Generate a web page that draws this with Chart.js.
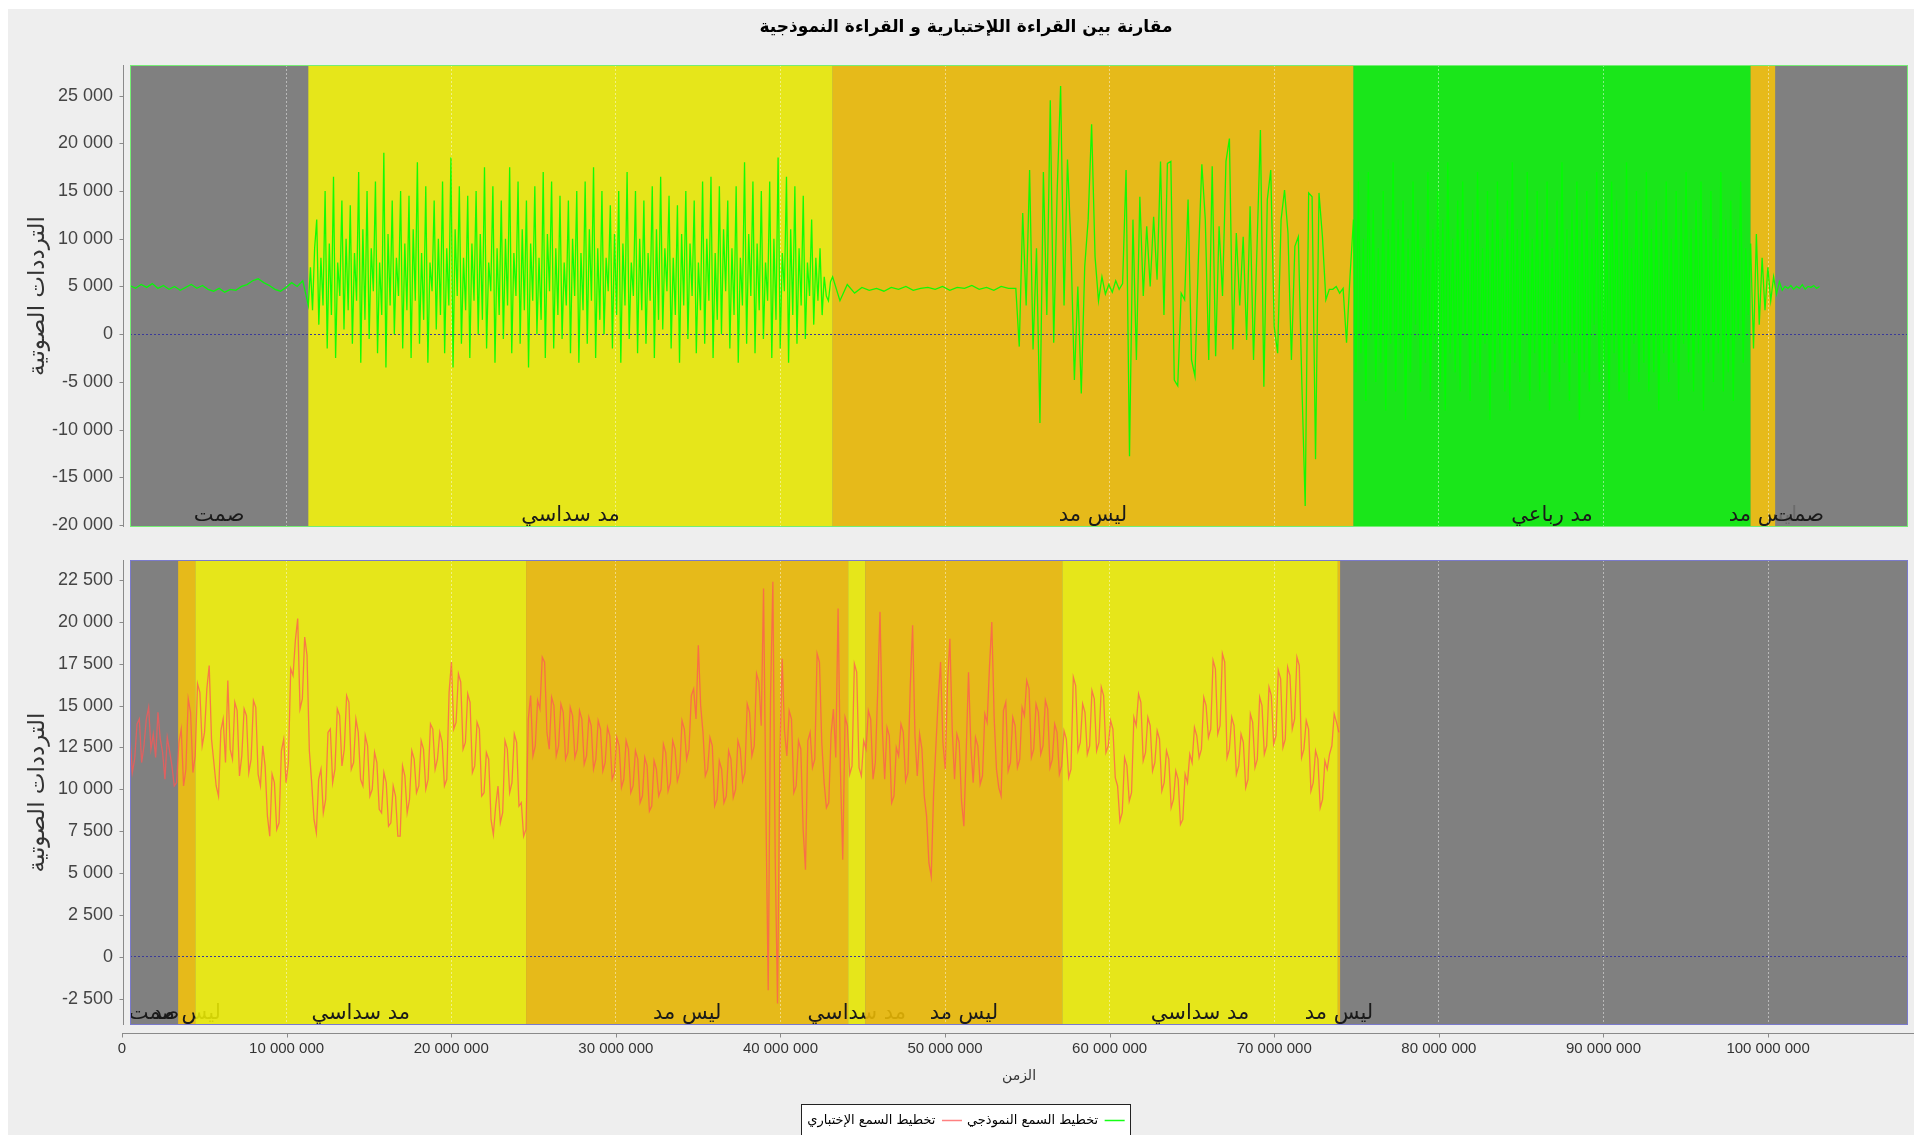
<!DOCTYPE html>
<html lang="ar">
<head>
<meta charset="UTF-8">
<title>مقارنة بين القراءة اللإختبارية و القراءة النموذجية</title>
<script src="https://cdn.jsdelivr.net/npm/chart.js@4"></script>
<style>
  html, body { margin: 0; padding: 0; background: #fff; overflow: hidden; }
  #panel { position: absolute; left: 8px; top: 9px; width: 1906px; height: 1126px; background: #eeeeee; overflow: hidden; }
  #panel canvas { position: absolute; left: 0; }
  #topChart { top: 0; }
  #bottomChart { top: 539px; }
</style>
</head>
<body>
<div id="panel">
  <canvas id="topChart" width="1906" height="530"></canvas>
  <canvas id="bottomChart" width="1906" height="589"></canvas>
</div>

<script>
// ---- axis values ----
const timeMin = 486000, timeMax = 108500000;
const timeTicks = [0, 10000000, 20000000, 30000000, 40000000, 50000000, 60000000, 70000000, 80000000, 90000000, 100000000];
const topYMin = -20200, topYMax = 28200;
const topYTicks = [-20000, -15000, -10000, -5000, 0, 5000, 10000, 15000, 20000, 25000];
const botYMin = -4080, botYMax = 23700;
const botYTicks = [-2500, 0, 2500, 5000, 7500, 10000, 12500, 15000, 17500, 20000, 22500];

// ---- labelled intervals (marker bands) ----
const kindLabel = { silence: 'صمت', vowel6: 'مد سداسي', none: 'ليس مد', vowel4: 'مد رباعي' };
const topRegionStart = [486000, 11320000, 43170000, 74810000, 98940000, 100440000];
const topRegionEnd   = [11320000, 43170000, 74810000, 98940000, 100440000, 103300000];
const topRegionKind  = ['silence', 'vowel6', 'none', 'vowel4', 'none', 'silence'];
const botRegionStart = [486000, 3410000, 4460000, 24550000, 44120000, 45160000, 57130000, 73860000];
const botRegionEnd   = [3410000, 4460000, 24550000, 44120000, 45160000, 57130000, 73860000, 74000000];
const botRegionKind  = ['silence', 'none', 'vowel6', 'none', 'vowel6', 'none', 'vowel6', 'none'];

// ---- model reading (top), stored per interval ----
const topSegStart = [486000, 11320000, 43170000, 54300000, 74810000, 98940000];
const topSegEnd   = [11320000, 43170000, 54300000, 74810000, 98940000, 103300000];

const topQuietA = [5100, 4800, 5200, 4900, 5300, 4800, 5100, 4700, 5000, 4600, 4900, 5200, 4800, 5100, 4700, 4500,
  4800, 4400, 4700, 4600, 5000, 5200, 5600, 5800, 5400, 5100, 4700, 4500, 4900, 5400, 5000, 5600];

const topVowel6 = [3000, 7000, 2500, 9000,
  12000, 1000, 8000, 3000, 15000, -1500, 9500, 2000, 16500, -2500, 7500, 4000, 14000, 500, 10000, 2500,
  13500, -1000, 8500, 3500, 17000, -3000, 11000, 1500, 15000, -500, 9000, 4500, 16000, -2000, 7500, 2000,
  19000, -3500, 10500, 3000, 14000, 0, 8000, 4000, 15000, -1500, 9500, 2500, 14500, -2500, 11000, 3500,
  18000, -1000, 8500, 1500, 15500, -3000, 7500, 4500, 14000, 500, 10000, 2000, 16000, -2000, 9000, 3000,
  18500, -3500, 11000, 4000, 15500, -1000, 8000, 2500, 14500, -2500, 9500, 3500, 15000, 0, 10500, 1500,
  17500, -1500, 7500, 4500, 15500, -3000, 9000, 2000, 14000, -500, 10000, 3000, 17500, -2000, 8500, 4000,
  16000, -1000, 11000, 2500, 14000, -3500, 9500, 3500, 15500, 0, 8000, 1500, 17000, -2500, 10500, 4500,
  16000, -1500, 9000, 2000, 14500, -500, 7500, 3000, 14000, -2000, 10000, 4000, 15000, -3000, 8500, 2500,
  16000, -1000, 11000, 3500, 17500, -2500, 9000, 1500, 15000, 0, 8000, 4500, 13500, -1500, 10500, 2000,
  15000, -3000, 9500, 3000, 17000, -500, 7500, 4000, 15000, -2000, 10000, 2500, 14000, -1000, 8500, 3500,
  15500, -2500, 11000, 1500, 16500, 500, 9000, 4500, 14500, -1500, 8000, 2000, 13500, -3000, 10500, 3000,
  15000, -500, 9500, 4000, 14000, -2000, 7500, 2500, 16000, -1000, 10000, 3500, 16500, -2500, 8500, 1500,
  15500, 0, 11000, 4500, 14000, -1500, 9000, 2000, 15500, -3000, 8000, 3000, 18000, -1000, 10500, 4000,
  16000, -2000, 9500, 2500, 15000, -500, 7500, 3500, 16000, -2500, 10000, 1500, 18500, -1500, 8500, 4500,
  16500, -3000, 11000, 2000, 15500, -1000, 9000, 3000, 14500, -500, 7500, 4000, 12000, 1000, 8000, 3500,
  9000, 2000, 6000, 4000, 3500, 5500];

const topQuietB = [6000, 3500, 5200, 4300, 4900, 4600, 4800, 4500, 4900, 4700, 5000, 4600, 4800, 4900, 4700, 5000,
  4600, 4900, 4800, 5100, 4700, 4900, 4600, 5000, 4800];

const topBursts = [4800, -1300, 12700, 3000, 17200, -1600, 9000, -9300, 17000, 2000, 24500, -900, 15000, 26000,
  3000, 18300, 9200, -4800, 5000, -6200, 7100, 12000, 22000, 8100, 3500, 6000, 4200, 5200, 4400, 5600, 4700, 5300,
  17200, -12800, 12000, -2700, 14400, 4000, 11300, 5000, 12300, 5700, 18100, 2000, 17900, 18100, -4800, -5400,
  4300, 3600, 14100, -2700, -4400, 8000, 17800, 12000, -2700, 17600, -2300, 11300, 4000, 18100, 20500, -1600,
  10600, 3000, 10200, -600, 13400, -2700, 9000, 21400, -5500, 14100, 17200, 800, -2000, 12000, 15100, 10600,
  -2700, 9200, 10200, -4800, -18000, 14800, 14400, -13100, 14800, 10200, 3600, 4700, 4700, 5000, 4300, 4800,
  -900, 6000];

const topVowel4 = [
  12000, -4000, 16000, -2000, 10000, -7000, 17000, 0, 13000, -5000, 9000, -3000, 15000, -8000, 11000, -1000,
  18000, -6000, 12000, -2000, 14000, -9000, 10000, -4000, 16000, 1000, 13000, -6000, 9000, -3000, 17000, -7000,
  11000, -1000, 15000, -5000, 12000, -8000, 18000, -2000, 10000, -4000, 14000, -6000, 16000, 0, 11000, -7000,
  13000, -3000, 17000, -5000, 9000, -1000, 15000, -9000, 12000, -4000, 16000, -2000, 10000, -6000, 14000, -8000,
  18000, -3000, 11000, -5000, 13000, 0, 17000, -7000, 10000, -2000, 15000, -6000, 12000, -4000, 16000, -8000,
  9000, -1000, 14000, -5000, 18000, -3000, 11000, -7000, 13000, -2000, 16000, -9000, 12000, -4000, 15000, -6000,
  10000, 1000, 17000, -5000, 13000, -3000, 11000, -8000, 16000, -2000, 14000, -6000, 12000, -4000, 18000, -7000,
  9000, -1000, 15000, -5000, 13000, -3000, 17000, -6000, 11000, -4000, 14000, -8000, 12000, -2000, 16000, -5000,
  10000, -3000, 15000, -7000, 13000, -1000, 17000, -4000, 11000, -6000, 14000, -2000, 16000, -8000, 12000, -3000,
  15000, -5000, 10000, -2000, 17000, -6000, 12000, -4000, 14000, -7000, 11000, 0, 16000, -3000, 9000, 2000];

const topTail = [9500, -1500, 10500, 1000, 8000, 2500, 7000, 3500, 6000, 4200, 5500, 4600, 5000, 4800, 5100, 4700,
  5000, 4800, 5200, 4700, 5000, 4900, 5100, 4800, 5000];

const topSegValues = [topQuietA, topVowel6, topQuietB, topBursts, topVowel4, topTail];

// ---- test reading (bottom), one sample every bottomStep ----
const bottomStart = 486000, bottomStep = 141500;
const bottomValues = [
  13200, 11000, 11800, 13900, 14200, 11600, 12600, 14200, 14900, 12400, 13300, 11900, 14600, 13000, 12200, 10600, 13100, 12300, 11400, 10200,
  10400, 12800, 13600, 10200, 11200, 15400, 14600, 11000, 12000, 16300, 15800, 12600, 13400, 16000, 17400, 13000, 11600, 10200, 9600, 13500,
  14200, 11600, 16500, 12400, 11800, 15200, 14700, 10800, 12000, 14800, 14400, 11000, 11800, 15300, 14900, 10900, 10200, 12600, 11400, 8400,
  7200, 10900, 10400, 7600, 8000, 12300, 13000, 10400, 11600, 17200, 16800, 18900, 20200, 14800, 15400, 19100, 18000, 12300, 10400, 8200,
  7400, 10600, 11200, 8600, 9400, 13400, 13600, 10400, 11200, 14800, 14400, 11400, 12400, 15600, 15200, 11200, 11600, 14200, 13400, 10600,
  10200, 13200, 12600, 9600, 10000, 12200, 11600, 8800, 8600, 11000, 10400, 7800, 8000, 10200, 9600, 7200, 7200, 11400, 10800, 8600,
  9400, 12300, 11800, 9800, 10200, 12900, 12400, 10000, 10600, 13900, 13600, 11200, 11800, 13400, 12800, 10200, 10600, 15800, 17600, 13600,
  14000, 16900, 16400, 12400, 12800, 15700, 15200, 11000, 11400, 14000, 13600, 9600, 9800, 12200, 11800, 8200, 7300, 9000, 10200, 8000,
  8600, 12900, 12400, 9800, 10400, 13300, 12800, 9000, 9200, 7200, 7600, 14200, 15600, 12000, 12600, 15300, 14800, 17900, 17600, 13400,
  12400, 15500, 15000, 12000, 12600, 15100, 14600, 11800, 12200, 14900, 14400, 11900, 12400, 14700, 14200, 11500, 12000, 14300, 13800, 11200,
  11800, 14100, 13600, 11100, 11600, 13700, 13200, 10600, 11000, 13100, 12600, 10100, 10600, 12900, 12400, 9800, 10200, 12300, 11800, 9200,
  9600, 11900, 11400, 8700, 9000, 11700, 11200, 9600, 10000, 12700, 12200, 9900, 10400, 12900, 12400, 10500, 11000, 14100, 13600, 11800,
  12400, 15600, 16000, 14200, 18600, 15000, 13400, 10800, 11200, 13100, 12600, 9000, 9400, 11700, 11200, 9200, 9600, 12300, 11800, 9500,
  10000, 12900, 12400, 10500, 11000, 15100, 14600, 12000, 12600, 16900, 16400, 13800, 22000, 9000, -2000, 15500, 22400, 6000, -2800, 12000,
  17800, 13500, 12000, 14700, 14200, 9800, 10200, 12900, 12400, 7600, 5200, 12900, 13400, 11300, 11800, 18100, 17600, 12800, 10400, 8900,
  9200, 13300, 14800, 11900, 20800, 11200, 5800, 14300, 13800, 10900, 11400, 17500, 17000, 11300, 10800, 12900, 12400, 14700, 14200, 10600,
  11600, 15800, 20600, 13600, 10600, 13700, 13200, 9200, 9600, 12500, 12000, 13900, 13400, 10500, 11000, 16200, 19800, 13200, 10800, 13300,
  12400, 9600, 8400, 5600, 4800, 9700, 12600, 15400, 17600, 12800, 11200, 16400, 19000, 13600, 10600, 13300, 12800, 9300, 7800, 12200,
  17000, 12600, 10400, 13100, 12600, 10300, 10800, 14500, 14000, 17300, 20000, 14300, 11200, 10100, 9600, 14700, 15200, 11100, 11600, 14300,
  13800, 11300, 11800, 14900, 14400, 16500, 16000, 11900, 12400, 15100, 14600, 12100, 12600, 15300, 14800, 11300, 11800, 13900, 13400, 10900,
  11400, 13500, 13000, 10700, 11200, 16700, 16200, 12300, 12800, 15100, 14600, 12100, 12600, 15900, 15400, 12300, 12800, 16100, 15600, 12200,
  12600, 14100, 13600, 10700, 10200, 8100, 8600, 11900, 11400, 9300, 9800, 14300, 13800, 15700, 15200, 11700, 12200, 14300, 13800, 11100,
  11600, 13500, 13000, 9900, 10400, 12300, 11800, 8900, 9400, 11100, 10600, 7900, 8200, 10900, 10400, 12100, 11600, 13700, 13200, 11900,
  12400, 15500, 15000, 13100, 13600, 17700, 17200, 13300, 13800, 18100, 17600, 11900, 12400, 14300, 13800, 10900, 11400, 13300, 12800, 10100,
  10600, 14500, 14000, 11300, 11800, 15500, 15000, 12100, 12600, 16100, 15600, 12700, 13200, 17100, 16600, 12500, 13000, 17300, 16800, 13600,
  14200, 17900, 17400, 11900, 12400, 14100, 13600, 9900, 10400, 12300, 11800, 8900, 9400, 11700, 11200, 12100, 12600, 14500, 14000, 13400];

// ---- text ----
const chartTitle = 'مقارنة بين القراءة اللإختبارية و القراءة النموذجية';
const yTitle = 'الترددات الصوتية';
const xTitle = 'الزمن';
const legendNames = ['تخطيط السمع النموذجي', 'تخطيط السمع الإختباري'];

// ---- styles ----
const arFont = "'DejaVu Sans', sans-serif";
const numFont = "'Liberation Sans', Arial, sans-serif";
const bandColor = { silence: 'rgba(128,128,128,0.8)', vowel6: 'rgba(255,255,0,0.8)', none: 'rgba(255,200,0,0.8)', vowel4: 'rgba(0,255,0,0.8)' };
const topLine = 'rgba(0,255,0,0.92)';
const botLine = 'rgba(255,85,85,0.75)';

Chart.defaults.font.family = numFont;

function spaced(v) {
  return String(v).replace(/\B(?=(\d{3})+(?!\d))/g, ' ');
}

function topPoints() {
  const pts = [];
  topSegValues.forEach((vals, s) => {
    const span = (topSegEnd[s] - topSegStart[s]) / vals.length;
    vals.forEach((v, i) => pts.push({ x: topSegStart[s] + i * span, y: v }));
  });
  return pts;
}

function bottomPoints() {
  return bottomValues.map((v, i) => ({ x: bottomStart + i * bottomStep, y: v }));
}

// gray plot background, coloured bands with their labels, axis lines, outline
function bandsPlugin(starts, ends, kinds, outline, withXAxis) {
  return {
    id: 'bands',
    beforeDraw(chart) {
      const { ctx, chartArea: a } = chart;
      const x = chart.scales.x;
      ctx.direction = 'ltr';
      ctx.save();
      const lg = chart.legend;
      if (lg && lg.legendHitBoxes && lg.legendHitBoxes.length) {
        const hb = lg.legendHitBoxes;
        const l = Math.min(...hb.map(h => h.left)), r = Math.max(...hb.map(h => h.left + h.width));
        const t = hb[0].top;
        ctx.fillStyle = '#ffffff';
        ctx.fillRect(l - 6, t - 10, r - l + 12, 40);
        ctx.strokeStyle = '#222';
        ctx.lineWidth = 1;
        ctx.strokeRect(Math.round(l - 6) + 0.5, Math.round(t - 10) + 0.5, Math.round(r - l + 12), 40);
      }
      ctx.beginPath();
      ctx.rect(a.left, a.top, a.width, a.height);
      ctx.clip();
      ctx.fillStyle = '#808080';
      ctx.fillRect(a.left, a.top, a.width, a.height);
      ctx.font = '21px ' + arFont;
      ctx.textAlign = 'center';
      ctx.textBaseline = 'alphabetic';
      for (let i = 0; i < starts.length; i++) {
        const x0 = x.getPixelForValue(starts[i]);
        const x1 = x.getPixelForValue(ends[i]);
        ctx.fillStyle = bandColor[kinds[i]];
        ctx.fillRect(x0, a.top, x1 - x0, a.height);
        ctx.fillStyle = '#1a1a1a';
        ctx.fillText(kindLabel[kinds[i]], (x0 + x1) / 2, a.bottom - 6);
      }
      ctx.restore();
    },
    afterDraw(chart) {
      const { ctx, chartArea: a } = chart;
      const y = chart.scales.y, x = chart.scales.x;
      ctx.save();
      ctx.lineWidth = 1;
      ctx.strokeStyle = outline;
      ctx.strokeRect(a.left + 0.5, a.top + 0.5, a.width - 1, a.height - 1);
      ctx.strokeStyle = '#8a8a8a';
      ctx.beginPath();
      const ax = Math.round(a.left) - 6.5;
      ctx.moveTo(ax, a.top);
      ctx.lineTo(ax, a.bottom);
      y.ticks.forEach(t => {
        const py = Math.round(y.getPixelForValue(t.value)) + 0.5;
        ctx.moveTo(ax - 4, py);
        ctx.lineTo(ax, py);
      });
      if (withXAxis) {
        const ay = Math.round(a.bottom) + 8.5;
        ctx.moveTo(x.getPixelForValue(0), ay);
        ctx.lineTo(chart.width, ay);
        timeTicks.forEach(v => {
          const px = Math.round(x.getPixelForValue(v)) + 0.5;
          ctx.moveTo(px, ay);
          ctx.lineTo(px, ay + 4);
        });
      }
      ctx.stroke();
      ctx.restore();
    }
  };
}

function xScale(showLabels) {
  return {
    type: 'linear',
    min: timeMin,
    max: timeMax,
    afterBuildTicks(s) { s.ticks = timeTicks.map(v => ({ value: v })); },
    afterFit(s) { if (showLabels) s.height = 84; },
    grid: {
      drawTicks: false,
      color: c => (c.tick && c.tick.value > 0) ? 'rgba(255,255,255,0.45)' : 'rgba(0,0,0,0)'
    },
    border: { display: false, dash: [2, 2] },
    ticks: {
      display: showLabels,
      autoSkip: false,
      maxRotation: 0,
      padding: 15,
      color: '#333',
      font: { family: numFont, size: 15 },
      callback: v => spaced(v)
    },
    title: {
      display: showLabels,
      text: xTitle,
      color: '#333',
      font: { family: arFont, size: 14 },
      padding: { top: 0, bottom: 24 }
    }
  };
}

function yScale(min, max, tickValues) {
  return {
    min: min,
    max: max,
    afterBuildTicks(s) { s.ticks = tickValues.map(v => ({ value: v })); },
    afterFit(s) { s.width = 106; s.paddingTop = 0; s.paddingBottom = 0; },
    grid: {
      drawTicks: false,
      color: c => (c.tick && c.tick.value === 0) ? '#3a3a9a' : 'rgba(0,0,0,0)'
    },
    border: { display: false, dash: [2, 2] },
    ticks: {
      autoSkip: false,
      padding: 17,
      color: '#444',
      font: { family: numFont, size: 18 },
      callback: v => spaced(v)
    },
    title: {
      display: true,
      text: yTitle,
      color: '#333',
      font: { family: arFont, size: 23 },
      padding: { top: 0, bottom: 0 }
    }
  };
}

new Chart(document.getElementById('topChart'), {
  type: 'line',
  data: {
    datasets: [{
      label: legendNames[0],
      data: topPoints(),
      borderColor: topLine,
      borderWidth: 1.3,
      pointRadius: 0,
      tension: 0
    }]
  },
  options: {
    responsive: false,
    animation: false,
    devicePixelRatio: 1,
    parsing: false,
    events: [],
    layout: { padding: { left: 16, right: 6, top: 0, bottom: 12 } },
    scales: { x: xScale(false), y: yScale(topYMin, topYMax, topYTicks) },
    plugins: {
      legend: { display: false },
      tooltip: { enabled: false },
      title: {
        display: true,
        text: chartTitle,
        color: '#000',
        font: { family: arFont, size: 17, weight: 'bold' },
        padding: { top: 8, bottom: 27.6 }
      }
    }
  },
  plugins: [bandsPlugin(topRegionStart, topRegionEnd, topRegionKind, '#74ee74', false)]
});

new Chart(document.getElementById('bottomChart'), {
  type: 'line',
  data: {
    datasets: [{
      label: legendNames[1],
      data: bottomPoints(),
      borderColor: botLine,
      borderWidth: 1.3,
      pointRadius: 0,
      tension: 0
    }]
  },
  options: {
    responsive: false,
    animation: false,
    devicePixelRatio: 1,
    parsing: false,
    events: [],
    layout: { padding: { left: 16, right: 6, top: 12, bottom: 0 } },
    scales: { x: xScale(true), y: yScale(botYMin, botYMax, botYTicks) },
    plugins: {
      tooltip: { enabled: false },
      legend: {
        position: 'bottom',
        rtl: true,
        textDirection: 'rtl',
        labels: {
          usePointStyle: true,
          pointStyleWidth: 20,
          padding: 5,
          color: '#111',
          font: { family: arFont, size: 13 },
          generateLabels: () => legendNames.map((t, i) => ({
            text: t,
            strokeStyle: i === 0 ? topLine : botLine,
            fillStyle: i === 0 ? topLine : botLine,
            lineWidth: 1.5,
            pointStyle: 'line',
            hidden: false,
            datasetIndex: i
          }))
        }
      }
    }
  },
  plugins: [bandsPlugin(botRegionStart, botRegionEnd, botRegionKind, '#7a7acc', true)]
});
</script>
</body>
</html>
